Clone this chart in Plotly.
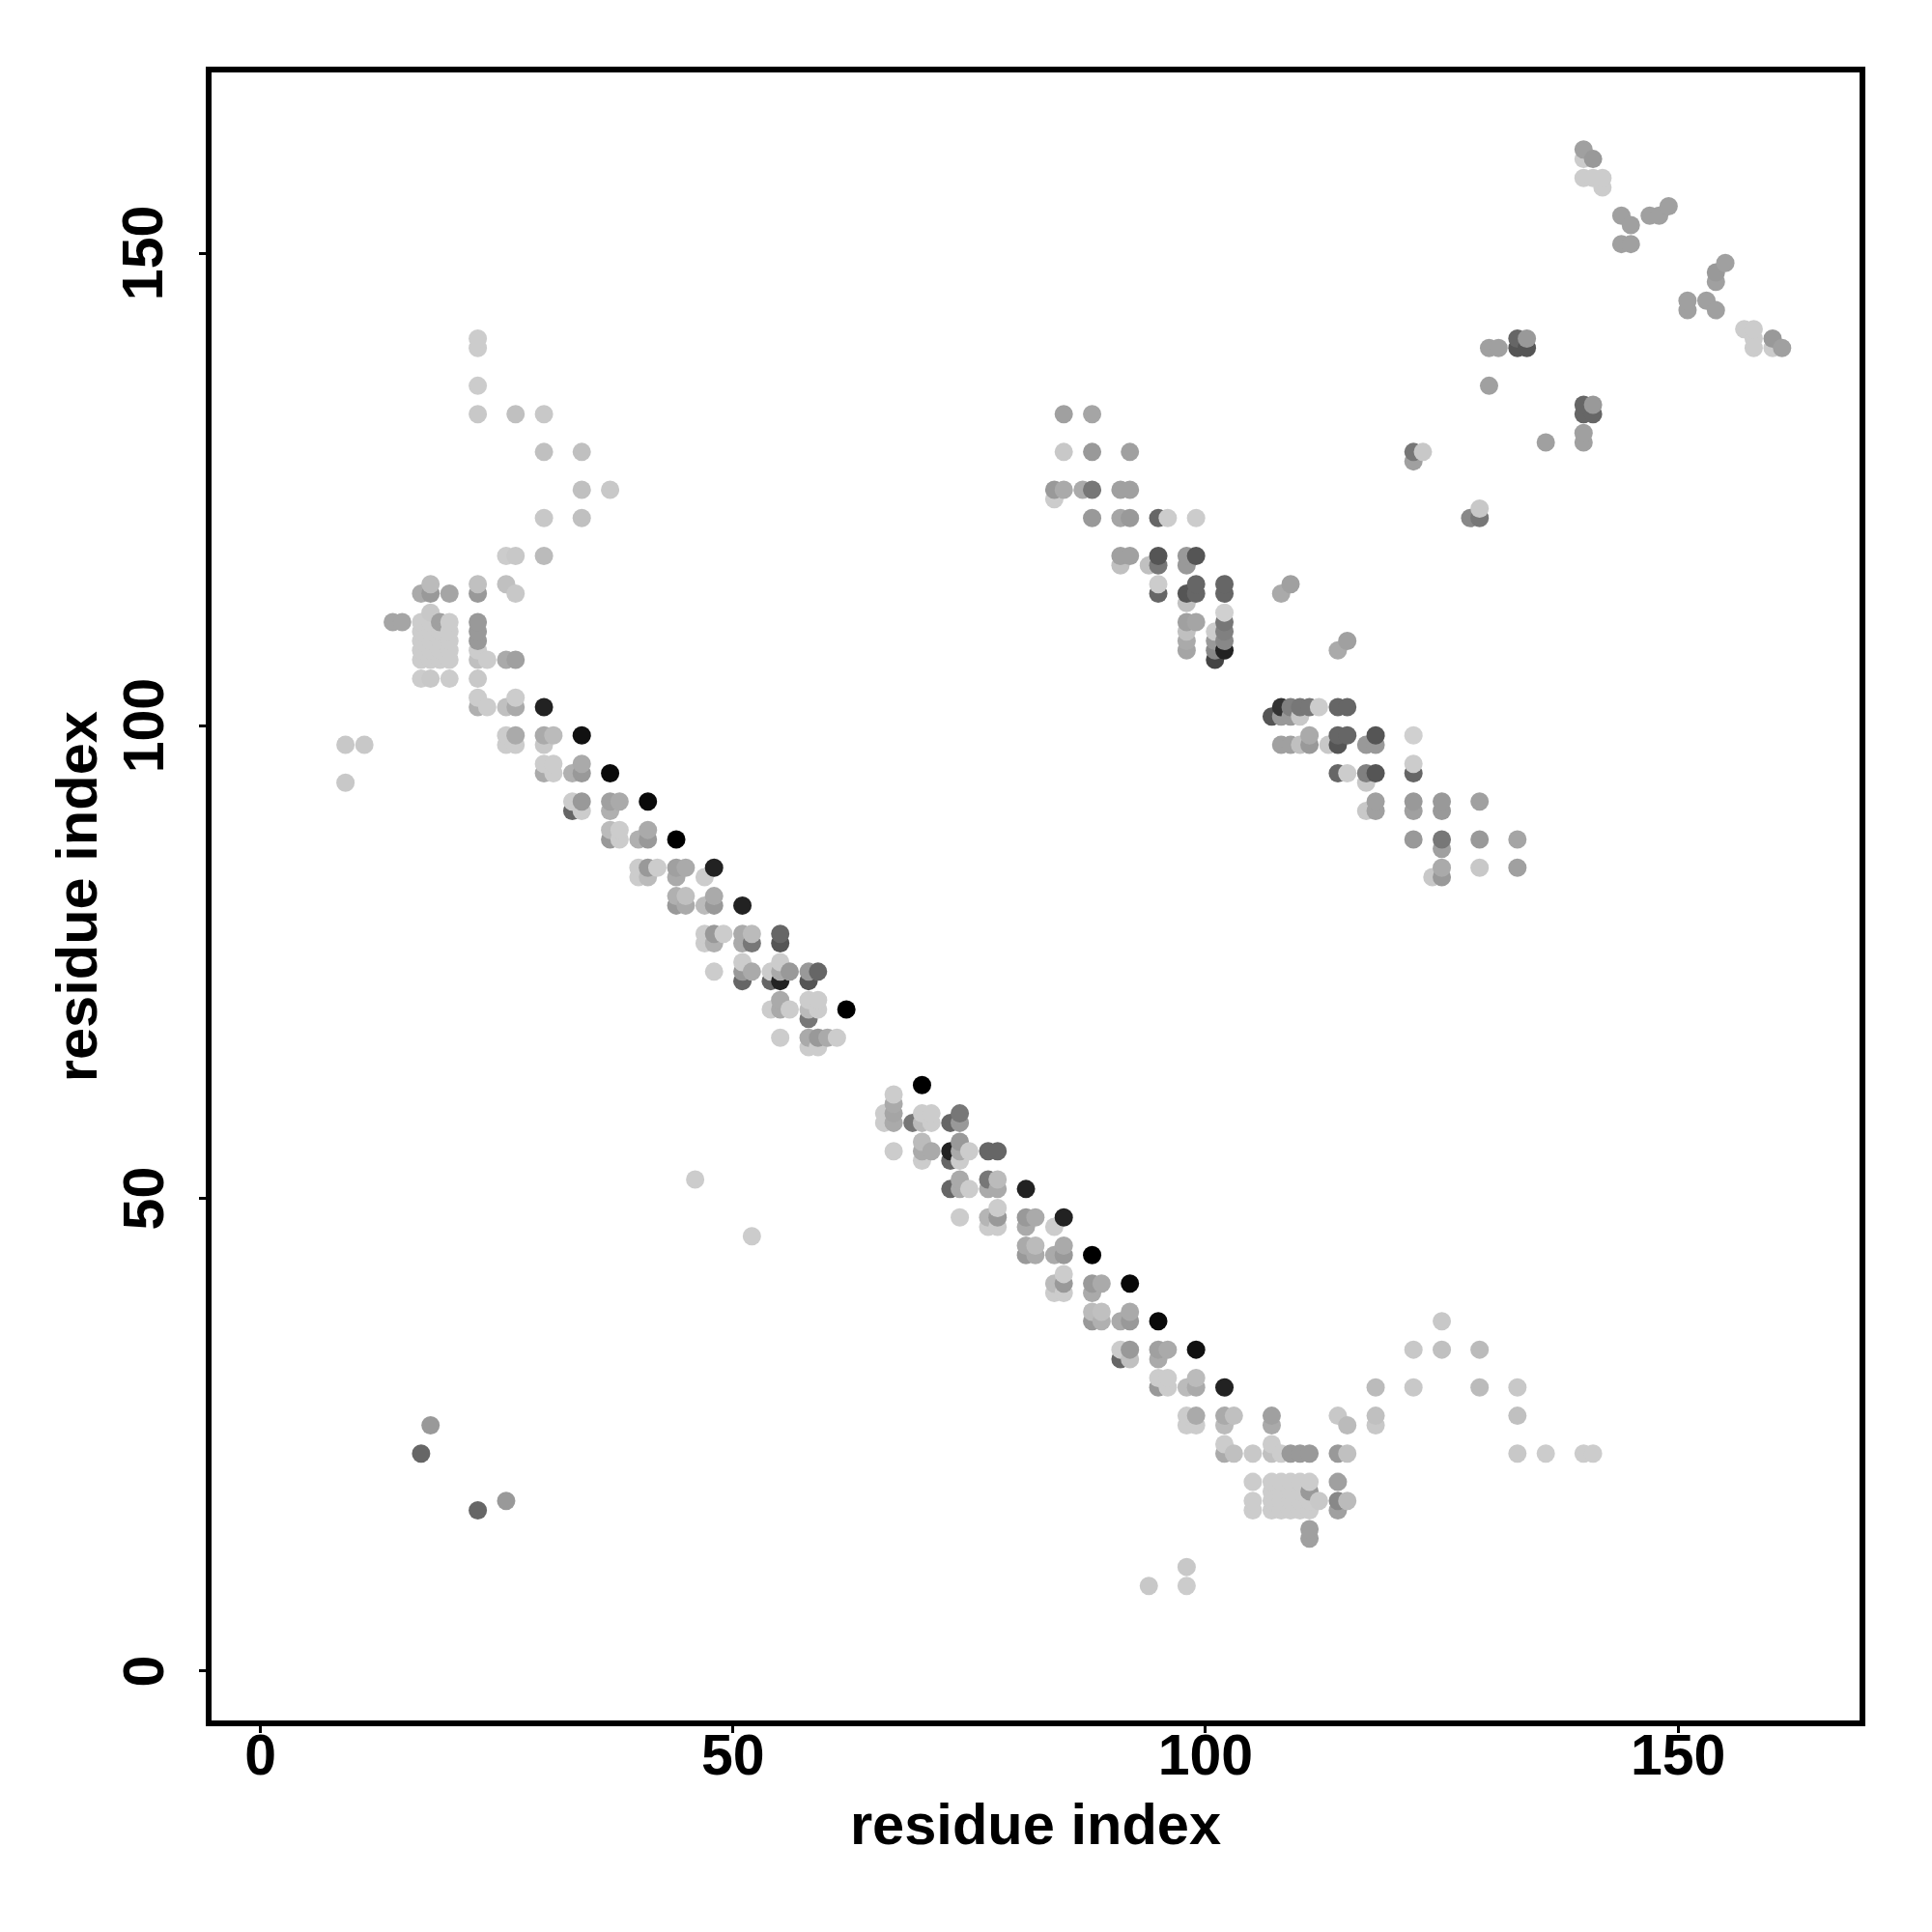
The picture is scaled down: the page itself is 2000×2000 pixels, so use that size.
import plotly.graph_objects as go

# residue i, residue j and grey level of each contact, by region of the map
upper_left_x = [9, 9, 11, 14, 15, 17, 18, 18, 20, 18,
                17, 17, 17, 17, 17, 18, 18, 18, 18, 18, 19, 19, 19, 19, 19, 20, 20, 20, 20, 20,
                17, 18, 20,
                23, 23, 23, 23, 27, 30, 30, 34, 34, 37, 30, 34,
                26, 27, 30, 23, 23, 26, 27,
                23, 23, 23, 23, 23, 24, 26, 27,
                23, 23, 23, 24, 26, 27, 27,
                26, 27, 26, 27]
upper_left_y = [98, 94, 98, 111, 111, 114, 115, 114, 114, 112,
                111, 110, 109, 108, 107, 111, 110, 109, 108, 107, 111, 110, 109, 108, 107, 111, 110, 109, 108, 107,
                105, 105, 105,
                141, 140, 136, 133, 133, 133, 129, 129, 125, 125, 122, 122,
                118, 118, 118, 115, 114, 115, 114,
                111, 110, 109, 108, 107, 107, 107, 107,
                105, 103, 102, 102, 102, 103, 102,
                99, 99, 98, 98]
upper_left_g = [200, 200, 200, 165, 165, 170, 187, 153, 165, 200,
                204, 204, 204, 204, 204, 204, 204, 204, 204, 204, 160, 204, 204, 204, 204, 204, 204, 204, 204, 204,
                204, 200, 204,
                204, 204, 204, 200, 192, 200, 192, 192, 192, 200, 200, 192,
                204, 200, 187, 192, 153, 192, 200,
                153, 153, 153, 204, 192, 204, 170, 160,
                200, 204, 176, 204, 192, 204, 170,
                204, 170, 204, 204]

helix_a_x = [30, 30, 31, 30, 34, 30, 31, 30, 31, 33, 34, 34, 37,
             33, 34, 33, 34, 37, 38, 37, 41,
             37, 38, 37, 38, 40, 41, 41, 44,
             40, 41, 42, 40, 41, 44, 45, 44, 47, 48,
             44, 45, 44, 45, 47, 48, 48, 51,
             47, 48, 49, 47, 48, 51, 52, 51, 52, 55, 55]
helix_a_y = [102, 99, 99, 98, 99, 96, 96, 95, 95, 95, 96, 95, 95,
             92, 92, 91, 91, 92, 92, 91, 92,
             89, 89, 88, 88, 88, 89, 88, 88,
             85, 85, 85, 84, 84, 85, 85, 84, 84, 85,
             82, 82, 81, 81, 81, 82, 81, 81,
             78, 78, 78, 77, 77, 78, 78, 77, 77, 78, 77]
helix_a_g = [34, 170, 187, 200, 17, 204, 204, 170, 204, 176, 170, 153, 10,
             204, 153, 102, 204, 160, 170, 176, 10,
             187, 204, 153, 204, 176, 170, 153, 0,
             204, 153, 204, 204, 187, 160, 170, 170, 204, 34,
             176, 192, 153, 170, 187, 170, 153, 34,
             204, 153, 204, 204, 176, 170, 187, 170, 119, 102, 85]

helix_a2_x = [48, 51, 51, 52, 51, 54, 54, 55, 55, 56, 55, 58, 59, 58,
              55, 54, 55, 56, 58, 59, 58, 59, 58, 62,
              55, 58, 59, 60, 61, 58, 59]
helix_a2_y = [74, 75, 74, 74, 73, 74, 73, 75, 74, 74, 73, 74, 74, 73,
              71, 70, 70, 70, 71, 71, 70, 70, 69, 70,
              67, 67, 67, 67, 67, 66, 66]
helix_a2_g = [204, 204, 153, 170, 102, 204, 102, 204, 170, 153, 34, 153, 102, 85,
              170, 204, 170, 204, 204, 204, 187, 204, 119, 0,
              204, 170, 153, 170, 204, 204, 204]

helix_b_x = [70, 67, 67, 67, 66, 66, 67, 69, 70, 71, 70, 71, 73, 74, 74,
             67, 70, 70, 71, 70, 73, 73, 74, 74, 74, 75, 77, 78,
             74, 73, 74, 75, 77, 78, 77, 78, 81,
             74, 78, 77, 78, 77, 78, 81, 82, 81, 84, 85]
helix_b_y = [62, 61, 60, 59, 59, 58, 58, 58, 59, 59, 58, 58, 58, 59, 58,
             55, 56, 55, 55, 54, 55, 54, 56, 55, 54, 55, 55, 55,
             52, 51, 51, 51, 52, 52, 51, 51, 51,
             48, 49, 48, 48, 47, 47, 48, 48, 47, 47, 48]
helix_b_g = [0, 204, 170, 165, 204, 204, 170, 119, 204, 204, 187, 204, 102, 119, 153,
             204, 187, 170, 170, 204, 34, 102, 153, 170, 204, 204, 102, 102,
             170, 102, 170, 204, 119, 187, 170, 170, 34,
             204, 204, 181, 153, 204, 204, 153, 170, 170, 204, 34]

helix_b2_x = [81, 82, 81, 82, 84, 85, 85, 88,
              85, 84, 85, 84, 85, 88, 89, 88, 92,
              88, 89, 88, 89, 91, 92, 92, 95,
              91, 92, 91, 92, 95, 96, 95, 99,
              95, 96, 95, 96, 98, 99, 99, 102]
helix_b2_y = [45, 45, 44, 44, 44, 45, 44, 44,
              42, 41, 41, 40, 40, 41, 41, 40, 41,
              38, 38, 37, 37, 37, 38, 37, 37,
              34, 34, 33, 33, 34, 34, 33, 34,
              31, 31, 30, 30, 30, 31, 30, 30]
helix_b2_g = [170, 187, 153, 170, 170, 170, 153, 0,
              204, 187, 153, 204, 204, 153, 170, 170, 8,
              187, 192, 153, 176, 170, 170, 153, 10,
              204, 153, 102, 192, 160, 170, 170, 17,
              204, 204, 153, 204, 187, 187, 170, 34]

lower_right_x = [125, 122, 125, 129, 118, 122, 129, 133,
                 98, 99, 98, 99, 102, 103, 102, 107, 107, 114, 115, 118, 118, 133,
                 102, 102, 103, 105, 107, 107, 108, 109, 110, 111, 114, 115, 133, 136, 140, 141]
lower_right_y = [37, 34, 34, 34, 30, 30, 30, 30,
                 27, 27, 26, 26, 27, 27, 26, 27, 26, 27, 26, 27, 26, 27,
                 24, 23, 23, 23, 24, 23, 23, 23, 23, 23, 23, 23, 23, 23, 23, 23]
lower_right_g = [200, 200, 192, 187, 187, 200, 187, 200,
                 204, 170, 204, 204, 170, 192, 187, 160, 170, 200, 187, 192, 200, 192,
                 204, 170, 192, 200, 204, 192, 204, 153, 153, 153, 153, 192, 200, 204, 204, 204]

block_x = [105, 107, 108, 109, 110, 111, 111, 114,
           107, 108, 109, 110,
           105, 107, 108, 109, 110, 111, 112, 114, 115,
           105, 107, 108, 109, 110, 111, 114,
           111, 111, 98, 94, 98]
block_y = [20, 20, 20, 20, 20, 20, 19, 20,
           19, 19, 19, 19,
           18, 18, 18, 18, 18, 18, 18, 18, 18,
           17, 17, 17, 17, 17, 17, 17,
           15, 14, 11, 9, 9]
block_g = [204, 204, 204, 204, 204, 204, 153, 160,
           204, 204, 204, 204,
           204, 204, 204, 204, 204, 204, 200, 136, 187,
           204, 204, 204, 204, 204, 204, 160,
           160, 160, 200, 200, 204]

stray_x = [46, 52, 18, 17, 26, 23]
stray_y = [52, 46, 26, 23, 18, 17]
stray_g = [204, 204, 153, 102, 153, 102]

upper_mid_x = [85, 88, 85, 88, 92, 84, 85, 84, 87, 88, 91, 92,
               88, 91, 92, 95, 96, 99,
               91, 92, 91, 94, 95, 95, 98, 98, 99,
               95, 95, 98, 98, 99, 99, 102, 102, 109, 108,
               102, 102, 102, 102, 102, 98, 99, 98, 98, 98,
               101, 101, 101, 101, 115, 114]
upper_mid_y = [133, 133, 129, 129, 129, 125, 125, 124, 125, 125, 125, 125,
               122, 122, 122, 122, 122, 122,
               118, 118, 117, 117, 118, 117, 118, 117, 118,
               115, 114, 114, 113, 115, 114, 115, 114, 115, 114,
               112, 111, 110, 109, 108, 111, 111, 110, 109, 108,
               110, 109, 108, 107, 109, 108]
upper_mid_g = [160, 165, 200, 153, 160, 153, 170, 204, 170, 119, 160, 160,
               153, 165, 153, 102, 204, 204,
               160, 160, 192, 192, 85, 119, 153, 153, 85,
               204, 102, 85, 192, 102, 102, 102, 102, 160, 170,
               208, 119, 128, 136, 34, 160, 165, 192, 170, 165,
               204, 153, 136, 68, 160, 170]

right_mid_x = [108, 109, 110, 111, 112, 114, 115,
               107, 108, 109, 110,
               111, 114, 115, 118, 122,
               108, 109, 110, 111, 113, 114, 117, 118,
               122, 114, 115, 117, 118, 117, 122,
               118, 117, 118, 122, 122, 125, 125, 129,
               122, 125, 125, 129, 133,
               125, 124, 125, 129, 133]
right_mid_y = [102, 102, 102, 102, 102, 102, 102,
               101, 101, 101, 101,
               99, 99, 99, 99, 99,
               98, 98, 98, 98, 98, 98, 98, 98,
               96, 95, 95, 95, 95, 94, 95,
               92, 91, 91, 92, 91, 92, 91, 92,
               88, 88, 87, 88, 88,
               85, 84, 84, 85, 85]
right_mid_g = [51, 128, 119, 119, 204, 102, 102,
               85, 153, 153, 200,
               170, 102, 102, 85, 208,
               160, 160, 192, 153, 200, 85, 153, 153,
               204, 102, 204, 128, 85, 200, 102,
               160, 200, 160, 153, 160, 153, 153, 160,
               153, 119, 160, 153, 165,
               170, 200, 153, 200, 160]

top_right_x = [140, 140, 141, 140, 141, 142, 142,
               144, 145, 144, 145, 147, 148, 149,
               155, 154, 154, 151, 151, 153, 154,
               157, 158, 158, 158, 160, 160, 161,
               130, 131, 133, 134, 133, 134, 130,
               140, 141, 140, 141, 140, 140, 136,
               122, 122, 123, 128, 129, 129]
top_right_y = [161, 160, 160, 158, 158, 158, 157,
               154, 153, 151, 151, 154, 154, 155,
               149, 148, 147, 145, 144, 145, 144,
               142, 142, 141, 140, 141, 140, 140,
               140, 140, 141, 141, 140, 140, 136,
               134, 134, 133, 133, 131, 130, 130,
               129, 128, 129, 122, 123, 122]
top_right_g = [160, 204, 153, 204, 204, 204, 204,
               160, 160, 160, 160, 160, 160, 160,
               160, 153, 160, 160, 160, 160, 160,
               204, 204, 204, 204, 153, 204, 160,
               160, 160, 102, 153, 85, 85, 160,
               102, 153, 102, 102, 160, 160, 160,
               119, 160, 200, 136, 200, 119]

x_ticks = [0, 50, 100, 150]
y_ticks = [0, 50, 100, 150]
axis_label = "residue index"

groups = [
    (upper_left_x, upper_left_y, upper_left_g),
    (helix_a_x, helix_a_y, helix_a_g),
    (helix_a2_x, helix_a2_y, helix_a2_g),
    (helix_b_x, helix_b_y, helix_b_g),
    (helix_b2_x, helix_b2_y, helix_b2_g),
    (lower_right_x, lower_right_y, lower_right_g),
    (block_x, block_y, block_g),
    (stray_x, stray_y, stray_g),
    (upper_mid_x, upper_mid_y, upper_mid_g),
    (right_mid_x, right_mid_y, right_mid_g),
    (top_right_x, top_right_y, top_right_g),
]
points = {}
for xs, ys, gs in groups:
    assert len(xs) == len(ys) == len(gs), (xs[:3], len(xs), len(ys), len(gs))
    for a, b, c in zip(xs, ys, gs):
        points[(a, b)] = c
ordered = sorted(points)  # later residues are painted over earlier ones

fig = go.Figure(go.Scatter(
    x=[p[0] for p in ordered],
    y=[p[1] for p in ordered],
    mode="markers",
    marker=dict(size=19, color=[points[p] for p in ordered], cmin=0, cmax=255,
                colorscale=[[0, "#000000"], [1, "#ffffff"]], showscale=False,
                line=dict(width=0)),
    showlegend=False,
))

FONT = "Liberation Sans, Arial, sans-serif"
axis = dict(showline=True, mirror=True, linecolor="black", linewidth=5.5, showgrid=False,
            zeroline=False, ticks="outside", ticklen=7, tickwidth=3, tickcolor="black",
            tickfont=dict(family=FONT, size=59, color="black", weight="bold"))
title_font = dict(family=FONT, size=59.6, color="black", weight="bold")
tick_font = dict(family=FONT, size=59, color="black", weight="bold")
fig.update_layout(
    width=2000, height=2000, paper_bgcolor="white", plot_bgcolor="white",
    margin=dict(l=210.75, r=82.75, t=66.75, b=226.75, autoexpand=False),
)
fig.update_xaxes(axis, range=[-5.17, 169.2], tickvals=x_ticks, ticktext=[str(v) for v in x_ticks],
                 ticklabelstandoff=-28,
                 title=dict(text=axis_label, font=title_font, standoff=21))
fig.update_yaxes(axis, range=[-5.24, 169.16], tickvals=y_ticks, showticklabels=False)
for v in y_ticks:
    fig.add_annotation(text=str(v), xref="paper", x=0, xshift=-70.25, yref="y", y=v,
                       textangle=-90, showarrow=False, font=tick_font,
                       xanchor="center", yanchor="middle")
fig.add_annotation(text=axis_label, xref="paper", x=0, xshift=-139.75, yref="paper", y=0.5,
                   textangle=-90, showarrow=False, font=title_font,
                   xanchor="center", yanchor="middle")
fig.write_html("out.html")
